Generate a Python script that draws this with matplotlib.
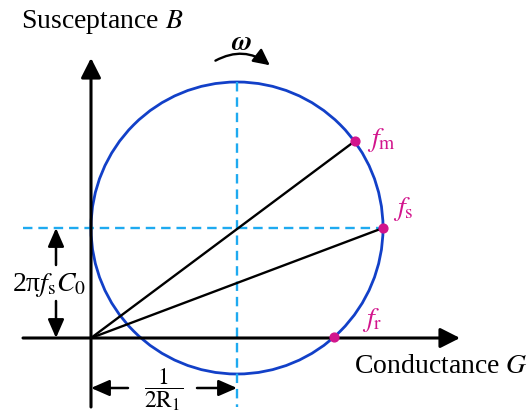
import numpy as np
import matplotlib
matplotlib.use('Agg')
import matplotlib.pyplot as plt
from matplotlib.patches import Circle, FancyArrowPatch

plt.rcParams['font.family'] = ['Liberation Serif', 'DejaVu Serif']
plt.rcParams['mathtext.fontset'] = 'stix'

# Admittance circle (arbitrary units): diameter 1/R1, offset 2*pi*fs*C0
g_diam = 292.0
b_offset = 110.0
# Frequency points on the circle, angle (deg) from the centre
freq_labels = [r'$f_{\mathrm{m}}$', r'$f_{\mathrm{s}}$', r'$f_{\mathrm{r}}$']
freq_angles = [36.4, 0.0, -48.5]
chord_points = [0, 1]  # joined to the origin

BLUE = '#1240c8'
CYAN = '#1eaaf0'
MAGENTA = '#d2148c'
FS = 20

fig = plt.figure(figsize=(5.29, 4.15), dpi=100)
ax = fig.add_axes([0, 0, 1, 1])
ax.set_xlim(-91, 529 - 91)
ax.set_ylim(338 - 415, 338)
ax.axis('off')

r = g_diam / 2
cx, cy = r, b_offset

# axes with arrowheads
ax_style = dict(arrowstyle='-|>,head_length=0.75,head_width=0.38', color='k',
                lw=2.2, shrinkA=0, shrinkB=0, mutation_scale=16)
ax.annotate('', xy=(0, 280), xytext=(0, -69), arrowprops=ax_style)
ax.annotate('', xy=(369, 0), xytext=(-68, 0), arrowprops=ax_style)

# dashed guides through the centre
ax.plot([cx, cx], [cy + r, -69], ls=(0, (4, 2.5)), color=CYAN, lw=1.7)
ax.plot([-68, cx + r], [cy, cy], ls=(0, (4, 2.5)), color=CYAN, lw=1.7)

# circle
ax.add_patch(Circle((cx, cy), r, fill=False, ec=BLUE, lw=2.0))

# points and chords
px = [cx + r * np.cos(np.radians(a)) for a in freq_angles]
py = [cy + r * np.sin(np.radians(a)) for a in freq_angles]
for i in chord_points:
    ax.plot([0, px[i]], [0, py[i]], color='k', lw=1.7)
ax.scatter(px, py, s=40, color=MAGENTA, zorder=5)
offsets = [(12, 1), (10, 19), (28, 17)]
for lab, x, y, (dx, dy) in zip(freq_labels, px, py, offsets):
    ax.text(x + dx, y + dy, lab, color=MAGENTA, fontsize=FS, ha='left', va='center')

# axis titles
ax.text(-70, 316, r'Susceptance $B$', fontsize=FS, ha='left', va='center')
ax.text(437, -28, r'Conductance $G$', fontsize=FS, ha='right', va='center')

# rotation sense
ax.add_patch(FancyArrowPatch((122, 276), (181, 271), connectionstyle='arc3,rad=-0.35',
                             arrowstyle='-|>,head_length=0.7,head_width=0.35',
                             mutation_scale=14, color='k', lw=1.7))
ax.text(150, 295, r'$\boldsymbol{\omega}$', fontsize=FS, ha='center', va='center')

# dimension: 2*pi*fs*C0
dim = dict(arrowstyle='-|>,head_length=0.8,head_width=0.35', color='k', lw=1.8,
           shrinkA=0, shrinkB=0, mutation_scale=14)
ax.annotate('', xy=(-35, b_offset), xytext=(-35, 73), arrowprops=dim)
ax.annotate('', xy=(-35, 0), xytext=(-35, 37), arrowprops=dim)
ax.text(-42, 53, r'2π$f_{\mathrm{s}}C_0$', fontsize=FS, ha='center', va='center')

# dimension: 1/(2R1)
ax.annotate('', xy=(0, -50), xytext=(37, -50), arrowprops=dim)
ax.annotate('', xy=(r, -50), xytext=(106, -50), arrowprops=dim)
ax.text(73, -52, r'$\dfrac{1}{2\mathrm{R}_1}$', fontsize=17, ha='center', va='center')

fig.savefig('out.png', dpi=100)
